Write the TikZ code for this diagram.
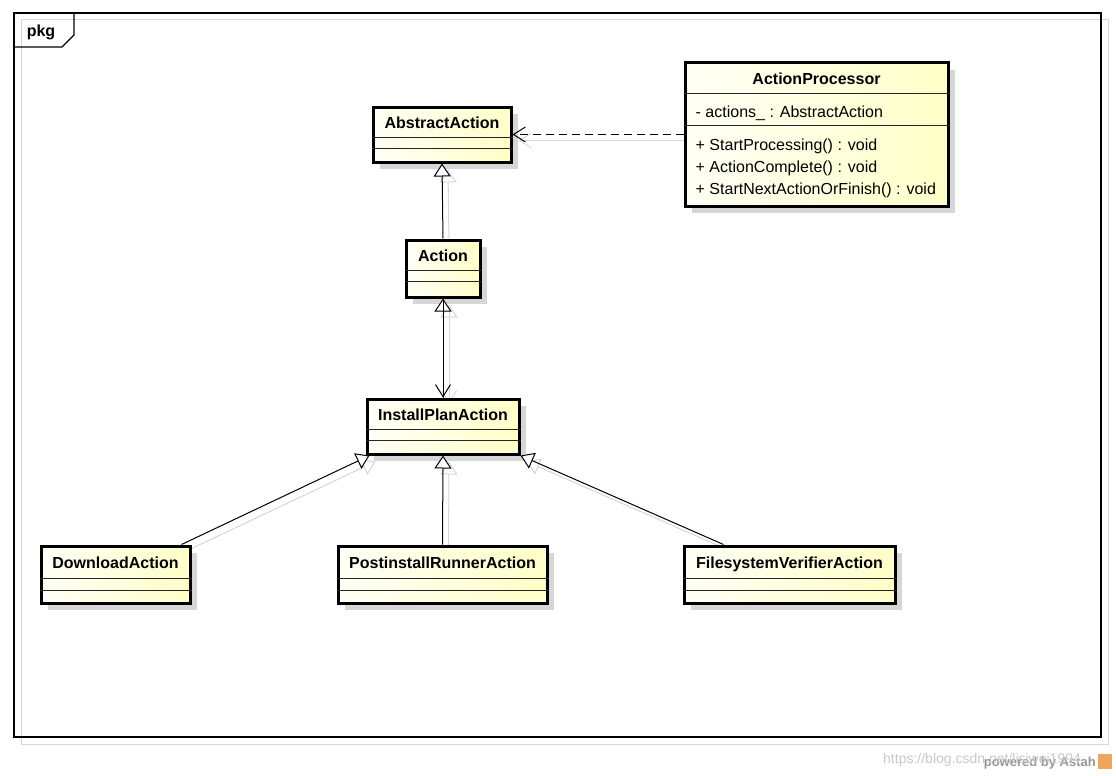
\documentclass[tikz,border=0pt]{standalone}
\usepackage{fontspec}
\setmainfont{Liberation Sans}
\usetikzlibrary{arrows.meta,positioning,shadows,backgrounds}
\definecolor{classyellow}{RGB}{255,255,200}
\definecolor{classwhite}{RGB}{255,255,246}
\definecolor{shadowgray}{RGB}{214,214,214}
\definecolor{markgray}{RGB}{150,150,150}
\definecolor{astahorange}{RGB}{238,142,50}

\begin{document}
\begin{tikzpicture}[x=1pt,y=-1pt,
    classbox/.style={draw, line width=3pt, inner sep=0pt,
        left color=classwhite, right color=classyellow,
        drop shadow={shadow xshift=7pt, shadow yshift=-7pt, fill=shadowgray, opacity=1}},
    classname/.style={font=\fontsize{16}{18}\selectfont\bfseries, inner sep=0pt,
        text height=11pt, text depth=3pt},
    member/.style={font=\fontsize{16}{18}\selectfont, inner sep=0pt, anchor=west,
        text height=11pt, text depth=3pt},
    compart/.style={line width=0.8pt, black!85},
    inherit/.style={line width=1pt, -{Triangle[open, fill=white, length=13pt, width=17pt]}},
    depend/.style={line width=1pt, dash pattern=on 8pt off 5pt, -{Straight Barb[length=12pt, width=15pt]}},
    assoc/.style={line width=1pt, -{Straight Barb[length=12pt, width=15pt]}},
    ghost/.style={shadowgray, transform canvas={xshift=6pt, yshift=-6pt}}]
  \useasboundingbox (0,0) rectangle (1116,776);

  % package frame
  \draw[shadowgray, line width=1pt] (21,20) rectangle (1108,744);
  \draw[line width=1.2pt] (14,13) rectangle (1101,737);
  \draw[line width=1.2pt] (14,47) -- (62,47) -- (74,35) -- (74,13);
  \node[classname] (pkg) at (41,33) {pkg};

  % classes
  \node[classbox, minimum width=138pt, minimum height=55pt] (abstract) at (442,134.5) {};
  \node[classname] (abstractname) at ([yshift=-19pt]abstract.north) {AbstractAction};
  \draw[compart] ([yshift=-32pt]abstract.north west) -- ([yshift=-32pt]abstract.north east);
  \draw[compart] ([yshift=-43pt]abstract.north west) -- ([yshift=-43pt]abstract.north east);

  \node[classbox, minimum width=263pt, minimum height=143pt] (processor) at (816.5,134.5) {};
  \node[classname] (processorname) at ([yshift=-19pt]processor.north) {ActionProcessor};
  \draw[compart] ([yshift=-32pt]processor.north west) -- ([yshift=-32pt]processor.north east);
  \node[member] (actions) at ([xshift=12pt,yshift=-52pt]processor.north west) {- actions\_ : AbstractAction};
  \draw[compart] ([yshift=-64pt]processor.north west) -- ([yshift=-64pt]processor.north east);
  \node[member] (startproc) at ([xshift=12pt,yshift=-85pt]processor.north west) {+ StartProcessing() : void};
  \node[member] (complete) at ([xshift=12pt,yshift=-107pt]processor.north west) {+ ActionComplete() : void};
  \node[member] (startnext) at ([xshift=12pt,yshift=-129pt]processor.north west) {+ StartNextActionOrFinish() : void};

  \node[classbox, minimum width=74pt, minimum height=57pt] (action) at (443,268.5) {};
  \node[classname] (actionname) at ([yshift=-19pt]action.north) {Action};
  \draw[compart] ([yshift=-32pt]action.north west) -- ([yshift=-32pt]action.north east);
  \draw[compart] ([yshift=-43pt]action.north west) -- ([yshift=-43pt]action.north east);

  \node[classbox, minimum width=152pt, minimum height=55pt] (ipa) at (443,426.5) {};
  \node[classname] (ipaname) at ([yshift=-19pt]ipa.north) {InstallPlanAction};
  \draw[compart] ([yshift=-32pt]ipa.north west) -- ([yshift=-32pt]ipa.north east);
  \draw[compart] ([yshift=-43pt]ipa.north west) -- ([yshift=-43pt]ipa.north east);

  \node[classbox, minimum width=149pt, minimum height=57pt] (download) at (115.5,574.5) {};
  \node[classname] (downloadname) at ([yshift=-20pt]download.north) {DownloadAction};
  \draw[compart] ([yshift=-34pt]download.north west) -- ([yshift=-34pt]download.north east);
  \draw[compart] ([yshift=-46pt]download.north west) -- ([yshift=-46pt]download.north east);

  \node[classbox, minimum width=209pt, minimum height=57pt] (postinstall) at (442.5,574.5) {};
  \node[classname] (postinstallname) at ([yshift=-20pt]postinstall.north) {PostinstallRunnerAction};
  \draw[compart] ([yshift=-34pt]postinstall.north west) -- ([yshift=-34pt]postinstall.north east);
  \draw[compart] ([yshift=-46pt]postinstall.north west) -- ([yshift=-46pt]postinstall.north east);

  \node[classbox, minimum width=211pt, minimum height=57pt] (filesystem) at (789.5,574.5) {};
  \node[classname] (filesystemname) at ([yshift=-20pt]filesystem.north) {FilesystemVerifierAction};
  \draw[compart] ([yshift=-34pt]filesystem.north west) -- ([yshift=-34pt]filesystem.north east);
  \draw[compart] ([yshift=-46pt]filesystem.north west) -- ([yshift=-46pt]filesystem.north east);

  % connector shadows
  \begin{scope}[on background layer]
    \draw[ghost, line width=1pt, -{Straight Barb[length=12pt, width=15pt]}] (processor.west) -- (abstract.east);
    \draw[ghost, inherit] (action.north) -- (abstract.south);
    \draw[ghost, inherit] (ipa.north) -- (action.south);
    \draw[ghost, assoc] (action.south) -- (ipa.north);
    \draw[ghost, inherit] ([xshift=-10pt]download.north east) -- ([xshift=4pt]ipa.south west);
    \draw[ghost, inherit] (postinstall.north) -- (ipa.south);
    \draw[ghost, inherit] ([xshift=41pt]filesystem.north west) -- (ipa.south east);
  \end{scope}

  % connectors
  \draw[depend] (processor.west) -- (abstract.east);
  \draw[inherit] (action.north) -- (abstract.south);
  \draw[inherit] (ipa.north) -- (action.south);
  \draw[assoc] (action.south) -- (ipa.north);
  \draw[inherit] ([xshift=-10pt]download.north east) -- ([xshift=4pt]ipa.south west);
  \draw[inherit] (postinstall.north) -- (ipa.south);
  \draw[inherit] ([xshift=41pt]filesystem.north west) -- (ipa.south east);

  % footer
  \node[anchor=east, inner sep=0pt, text=markgray, font=\fontsize{13}{15}\selectfont\bfseries] (poweredby) at (1096,763) {powered by Astah};
  \node[anchor=west, inner sep=0pt, text=black!22, font=\fontsize{14}{16}\selectfont] (blogurl) at (883,760) {https://blog.csdn.net/lisiwei1994};
  \fill[astahorange!80] (1098,754) rectangle (1112,769);
\end{tikzpicture}
\end{document}
